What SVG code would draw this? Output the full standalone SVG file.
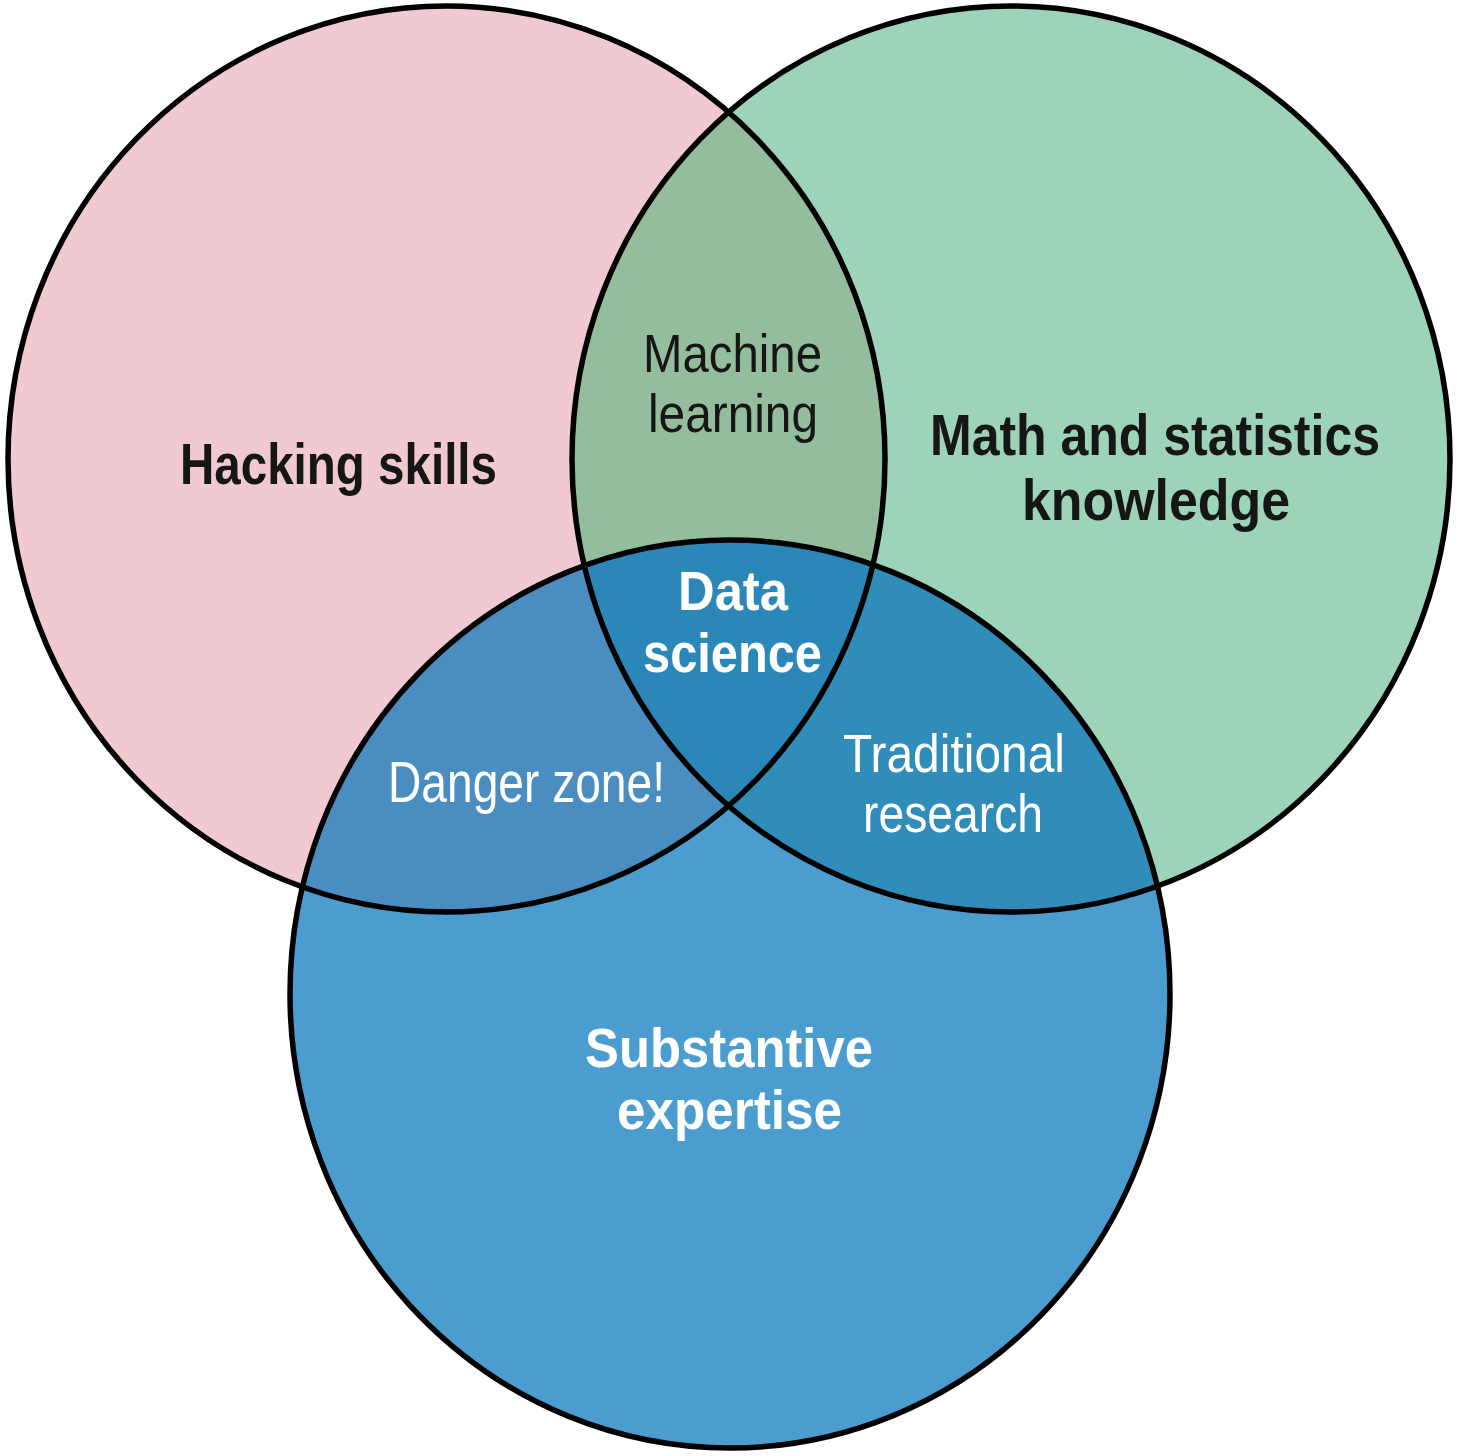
<svg xmlns="http://www.w3.org/2000/svg" width="1460" height="1456" viewBox="0 0 1460 1456">
  <style>
    .lbl { font-family: "Liberation Sans Narrow", "Liberation Sans", Arial, sans-serif; text-anchor: middle; }
    .dark { fill: #161616; }
    .light { fill: #ffffff; }
    .strong { font-weight: 700; }
    .plain { font-weight: 400; }
    .s58 { font-size: 58px; }
    .s55 { font-size: 55px; }
    .s53 { font-size: 53.5px; }
    .ring { fill: none; stroke: #000000; stroke-width: 5.5; }
  </style>
  <defs>
    <ellipse id="shape-hack" cx="446.5" cy="459" rx="438.5" ry="453"/>
    <ellipse id="shape-math" cx="1011" cy="459" rx="439" ry="453"/>
    <ellipse id="shape-subst" cx="730" cy="994" rx="440" ry="454"/>
    <clipPath id="clip-hack"><use href="#shape-hack"/></clipPath>
    <clipPath id="clip-math"><use href="#shape-math"/></clipPath>
  </defs>

  <rect width="1460" height="1456" fill="#ffffff"/>

  <!-- base sets -->
  <g id="hacking-skills">
    <use href="#shape-hack" fill="#F0CAD0"/>
  </g>
  <g id="math-statistics">
    <use href="#shape-math" fill="#9DD3B8"/>
  </g>
  <g id="substantive-expertise">
    <use href="#shape-subst" fill="#4B9DCF"/>
  </g>

  <!-- pairwise overlaps -->
  <g id="machine-learning">
    <use href="#shape-math" fill="#93BD9D" clip-path="url(#clip-hack)"/>
  </g>
  <g id="danger-zone">
    <use href="#shape-subst" fill="#4A8DC1" clip-path="url(#clip-hack)"/>
  </g>
  <g id="traditional-research">
    <use href="#shape-subst" fill="#308DBA" clip-path="url(#clip-math)"/>
  </g>
  <!-- triple overlap -->
  <g id="data-science">
    <g clip-path="url(#clip-hack)">
      <use href="#shape-subst" fill="#2B87B7" clip-path="url(#clip-math)"/>
    </g>
  </g>

  <!-- outlines -->
  <g id="outlines">
    <use href="#shape-hack" class="ring"/>
    <use href="#shape-math" class="ring"/>
    <use href="#shape-subst" class="ring"/>
  </g>

  <!-- labels -->
  <g id="labels">
    <text class="lbl dark strong s58" x="338.5" y="484" textLength="317" lengthAdjust="spacingAndGlyphs">Hacking skills</text>

    <text class="lbl dark plain s53" x="732.5" y="372" textLength="179" lengthAdjust="spacingAndGlyphs">Machine</text>
    <text class="lbl dark plain s53" x="733" y="432" textLength="170" lengthAdjust="spacingAndGlyphs">learning</text>

    <text class="lbl dark strong s58" x="1155" y="455" textLength="450" lengthAdjust="spacingAndGlyphs">Math and statistics</text>
    <text class="lbl dark strong s58" x="1156" y="520" textLength="268" lengthAdjust="spacingAndGlyphs">knowledge</text>

    <text class="lbl light strong s55" x="733" y="610" textLength="110" lengthAdjust="spacingAndGlyphs">Data</text>
    <text class="lbl light strong s55" x="732.5" y="672" textLength="179" lengthAdjust="spacingAndGlyphs">science</text>

    <text class="lbl light plain s58" x="526.5" y="802" textLength="277" lengthAdjust="spacingAndGlyphs">Danger zone!</text>

    <text class="lbl light plain s53" x="954" y="772" textLength="222" lengthAdjust="spacingAndGlyphs">Traditional</text>
    <text class="lbl light plain s53" x="953" y="832" textLength="180" lengthAdjust="spacingAndGlyphs">research</text>

    <text class="lbl light strong s55" x="729" y="1067" textLength="288" lengthAdjust="spacingAndGlyphs">Substantive</text>
    <text class="lbl light strong s55" x="729.5" y="1129" textLength="225" lengthAdjust="spacingAndGlyphs">expertise</text>
  </g>
</svg>
